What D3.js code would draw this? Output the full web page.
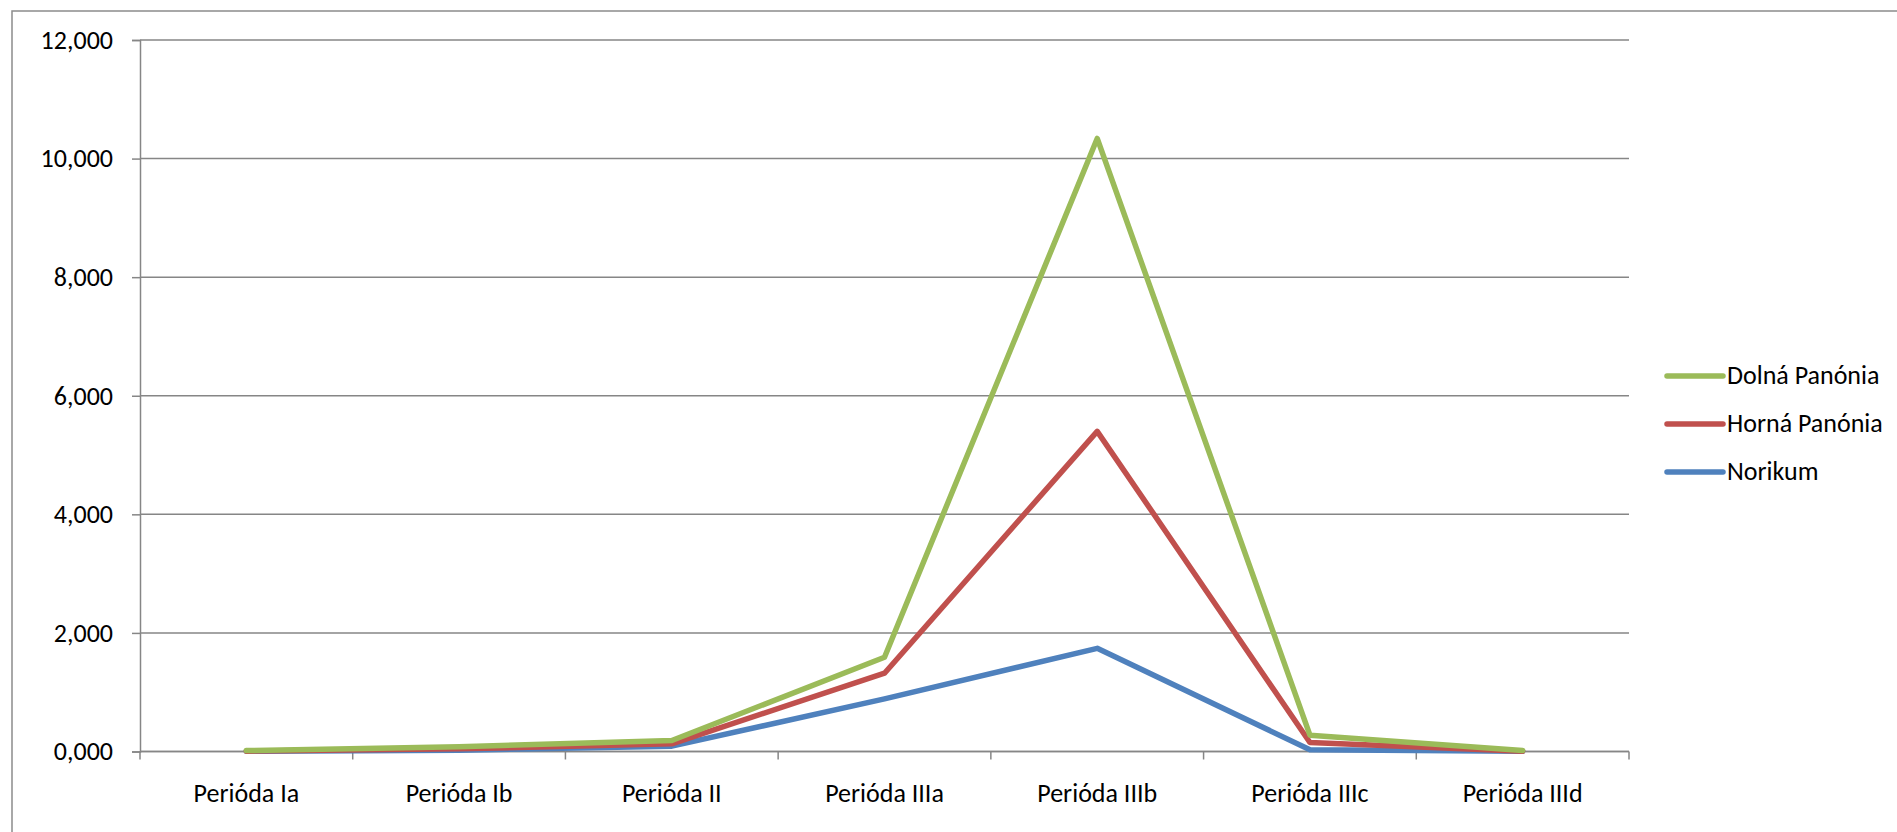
<!DOCTYPE html>
<html>
<head>
<meta charset="utf-8">
<script src="https://cdn.jsdelivr.net/npm/d3@7"></script>
<style>
  html, body { margin: 0; padding: 0; background: #ffffff; }
  svg { display: block; }
  text { font-family: Carlito, Calibri, Lato, "Open Sans", sans-serif; fill: #000; }
</style>
</head>
<body>
<svg id="chart" width="1897" height="832"></svg>
<script>
const categories = ["Perióda Ia", "Perióda Ib", "Perióda II", "Perióda IIIa", "Perióda IIIb", "Perióda IIIc", "Perióda IIId"];
const dolnaPanonia = [0.015, 0.080, 0.185, 1.590, 10.340, 0.276, 0.015];
const hornaPanonia = [0.005, 0.045, 0.130, 1.320, 5.400, 0.152, 0.005];
const norikum      = [0.003, 0.020, 0.090, 0.888, 1.740, 0.030, 0.003];
const yTicks = [0, 2, 4, 6, 8, 10, 12];
const seriesNames = ["Dolná Panónia", "Horná Panónia", "Norikum"];
const seriesColors = ["#9BBB59", "#C0504D", "#4F81BD"];

const series = [
  { name: seriesNames[0], values: dolnaPanonia, color: seriesColors[0] },
  { name: seriesNames[1], values: hornaPanonia, color: seriesColors[1] },
  { name: seriesNames[2], values: norikum, color: seriesColors[2] }
];

const svg = d3.select("#chart");
const W = 1897, H = 832;
const plot = { left: 140, right: 1629, top: 40, bottom: 751.5 };
const gridColor = "#868686";
const FS = 26;

// outer chart border
svg.append("rect")
  .attr("x", 12).attr("y", 11)
  .attr("width", W).attr("height", H)
  .attr("fill", "none").attr("stroke", "#8c8c8c").attr("stroke-width", 1.5);

const x = d3.scaleBand().domain(categories).range([plot.left, plot.right]).paddingInner(0).paddingOuter(0);
const y = d3.scaleLinear().domain([0, 12]).range([plot.bottom, plot.top]);

const sk = d3.formatLocale({ decimal: ",", thousands: " ", grouping: [3], currency: ["", " €"] });
const fmt = sk.format(".3f");

// gridlines
svg.append("g").selectAll("line").data(yTicks).join("line")
  .attr("x1", plot.left).attr("x2", plot.right)
  .attr("y1", d => y(d)).attr("y2", d => y(d))
  .attr("stroke", gridColor).attr("stroke-width", 1.5);

// y axis
const yAxis = svg.append("g").attr("transform", `translate(${plot.left},0)`)
  .call(d3.axisLeft(y).tickValues(yTicks).tickFormat(fmt).tickSize(8).tickPadding(19));
yAxis.select(".domain").attr("stroke", gridColor).attr("stroke-width", 1.5);
yAxis.selectAll(".tick line").attr("stroke", gridColor).attr("stroke-width", 1.5);
yAxis.selectAll(".tick text").attr("font-size", FS).attr("font-family", "Carlito, Calibri, Lato, sans-serif").attr("fill", "#000");

// x axis line and ticks at category boundaries
const boundaries = categories.map(c => x(c)).concat([x(categories[categories.length - 1]) + x.bandwidth()]);
svg.append("line")
  .attr("x1", plot.left).attr("x2", plot.right)
  .attr("y1", plot.bottom).attr("y2", plot.bottom)
  .attr("stroke", gridColor).attr("stroke-width", 1.5);
svg.append("g").selectAll("line").data(boundaries).join("line")
  .attr("x1", d => d).attr("x2", d => d)
  .attr("y1", plot.bottom).attr("y2", plot.bottom + 8)
  .attr("stroke", gridColor).attr("stroke-width", 1.5);
svg.append("g").selectAll("text").data(categories).join("text")
  .attr("x", d => x(d) + x.bandwidth() / 2)
  .attr("y", 802)
  .attr("text-anchor", "middle")
  .attr("font-size", FS)
  .text(d => d);

// lines (drawn Norikum first, Dolná on top)
const line = d3.line()
  .x((d, i) => x(categories[i]) + x.bandwidth() / 2)
  .y(d => y(d));
svg.append("g").selectAll("path").data(series.slice().reverse()).join("path")
  .attr("d", d => line(d.values))
  .attr("fill", "none")
  .attr("stroke", d => d.color)
  .attr("stroke-width", 5.5)
  .attr("stroke-linejoin", "round")
  .attr("stroke-linecap", "round");

// legend
const lg = svg.append("g").selectAll("g").data(series).join("g")
  .attr("transform", (d, i) => `translate(1667,${376 + i * 48})`);
lg.append("line")
  .attr("x1", 0).attr("x2", 56).attr("y1", 0).attr("y2", 0)
  .attr("stroke", d => d.color).attr("stroke-width", 5.5).attr("stroke-linecap", "round");
lg.append("text")
  .attr("x", 60).attr("y", 8)
  .attr("font-size", FS)
  .text(d => d.name);
</script>
</body>
</html>
